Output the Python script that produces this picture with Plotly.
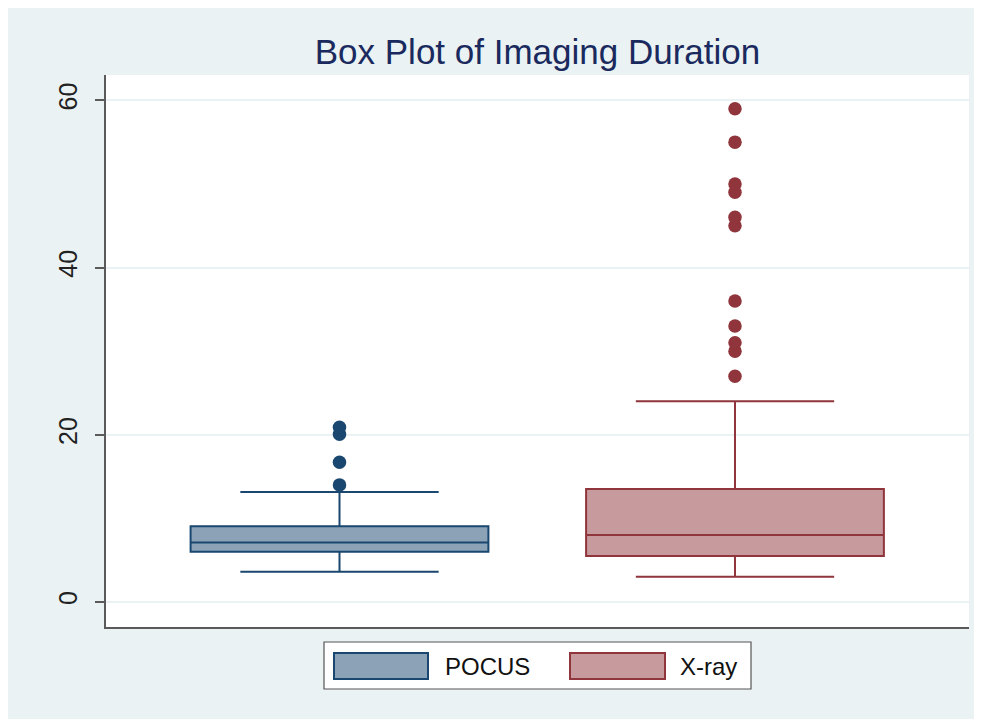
import plotly.graph_objects as go

# ---------------- data ----------------
categories = ["POCUS", "X-ray"]
positions = [1, 2]
q1 = [6.0, 5.5]
median = [7.1, 8.0]
q3 = [9.05, 13.5]
lower_adjacent = [3.6, 3.0]
upper_adjacent = [13.15, 24.0]
pocus_outliers = [14.0, 16.7, 20.05, 20.9]
xray_outliers = [27, 30, 31, 33, 36, 45, 46, 49, 50, 55, 59]
outliers = [pocus_outliers, xray_outliers]
y_ticks = [0, 20, 40, 60]

line_colors = ["#1a476f", "#90353b"]
fill_colors = ["rgba(26,71,111,0.5)", "rgba(144,53,59,0.5)"]
bg_color = "#eaf2f3"
title_text = "Box Plot of Imaging Duration"
font_family = "Liberation Sans, Arial, sans-serif"

# ---------------- layout geometry (page pixels, body margin = 8) ----------------
OFF = 8
W, H = 982, 719
L, R, T, B = 106 - OFF, 969 - OFF, 75 - OFF, 627 - OFF
pw, ph = R - L, B - T


def px(x):
    return (x - OFF - L) / pw


def py(y):
    return (B - (y - OFF)) / ph


fig = go.Figure()

for i in range(len(categories)):
    fig.add_trace(go.Box(
        x=[positions[i]],
        q1=[q1[i]], median=[median[i]], q3=[q3[i]],
        lowerfence=[lower_adjacent[i]], upperfence=[upper_adjacent[i]],
        name=categories[i],
        width=0.753,
        whiskerwidth=0.666,
        fillcolor=fill_colors[i],
        line=dict(color=line_colors[i], width=2),
        boxpoints=False,
        hoverinfo="skip",
        showlegend=False,
    ))
    fig.add_trace(go.Scatter(
        x=[positions[i]] * len(outliers[i]),
        y=outliers[i],
        mode="markers",
        marker=dict(color=line_colors[i], size=13.5, line=dict(width=0)),
        showlegend=False,
        hoverinfo="skip",
    ))

shapes = []
# white plot region
shapes.append(dict(type="rect", xref="paper", yref="paper",
                   x0=0, x1=1, y0=0, y1=1,
                   fillcolor="white", line=dict(width=0), layer="below"))
# legend frame
shapes.append(dict(type="rect", xref="paper", yref="paper",
                   x0=px(324), x1=px(751), y0=py(689), y1=py(642),
                   fillcolor="white", line=dict(color="#555555", width=1.2)))
swatch_x = [(334, 428), (570, 665)]
text_x = [443, 678]
annotations = []
for i in range(len(categories)):
    shapes.append(dict(type="rect", xref="paper", yref="paper",
                       x0=px(swatch_x[i][0]), x1=px(swatch_x[i][1]),
                       y0=py(679), y1=py(653),
                       fillcolor=fill_colors[i],
                       line=dict(color=line_colors[i], width=2)))
    annotations.append(dict(xref="paper", yref="paper",
                            x=px(text_x[i]), y=py(666),
                            xanchor="left", yanchor="middle",
                            text=categories[i], showarrow=False,
                            font=dict(size=24, color="#111111", family=font_family)))

fig.update_layout(
    width=W, height=H,
    margin=dict(l=L, r=W - R, t=T, b=H - B, pad=0),
    paper_bgcolor=bg_color,
    plot_bgcolor="white",
    font=dict(family=font_family),
    title=dict(text=title_text, x=0.5, xref="paper", xanchor="center",
               y=1 - (52 - OFF) / H, yref="container", yanchor="middle",
               font=dict(size=35, color="#1b2a5e", family=font_family)),
    shapes=shapes,
    annotations=annotations,
    showlegend=False,
)

fig.update_xaxes(range=[0.4096, 2.5917], showgrid=False, zeroline=False,
                 showticklabels=False, ticks="", showline=True,
                 linecolor="#5a5a5a", linewidth=2, fixedrange=True)
fig.update_yaxes(range=[-3.0, 63.03], tickvals=y_ticks,
                 ticktext=[str(v) for v in y_ticks],
                 tickangle=-90, ticks="outside", ticklen=9, tickwidth=1.5,
                 tickcolor="#5a5a5a", showline=True, linecolor="#5a5a5a",
                 linewidth=2, showgrid=True, gridcolor=bg_color, gridwidth=1.5,
                 zeroline=False, ticklabelstandoff=8,
                 tickfont=dict(size=25, color="#222222", family=font_family),
                 fixedrange=True)

fig.write_html("out.html")
